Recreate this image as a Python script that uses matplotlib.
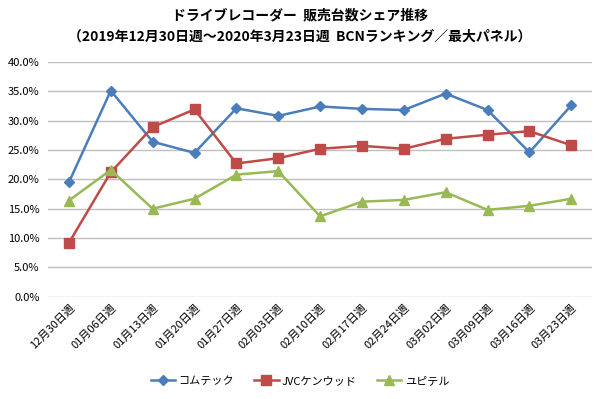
import matplotlib
matplotlib.use('Agg')
import matplotlib.pyplot as plt
from matplotlib.ticker import FuncFormatter

plt.rcParams['font.family'] = ['Noto Sans CJK JP', 'DejaVu Sans']

weeks = ['12月30日週', '01月06日週', '01月13日週', '01月20日週', '01月27日週',
         '02月03日週', '02月10日週', '02月17日週', '02月24日週', '03月02日週',
         '03月09日週', '03月16日週', '03月23日週']
comtec = [19.5, 35.1, 26.4, 24.5, 32.1, 30.8, 32.4, 32.0, 31.8, 34.6, 31.8, 24.6, 32.6]
jvc = [9.2, 21.2, 28.9, 31.9, 22.7, 23.6, 25.2, 25.7, 25.2, 26.9, 27.6, 28.2, 25.8]
yupiteru = [16.4, 21.6, 15.0, 16.7, 20.8, 21.4, 13.7, 16.2, 16.5, 17.8, 14.8, 15.5, 16.7]

fig = plt.figure(figsize=(6, 3.99), dpi=100)
ax = fig.add_axes([0.08, 0.256, 0.907, 0.589])

x = range(len(weeks))
ax.plot(x, comtec, color='#4A7EBB', marker='D', markersize=5, linewidth=1.8, label='コムテック')
ax.plot(x, jvc, color='#BE4B48', marker='s', markersize=6.5, linewidth=1.8, label='JVCケンウッド')
ax.plot(x, yupiteru, color='#98B954', marker='^', markersize=7, linewidth=1.8, label='ユピテル')

ax.set_xlim(-0.5, len(weeks) - 0.5)
ax.set_ylim(0, 40)
ax.set_yticks(range(0, 41, 5))
ax.yaxis.set_major_formatter(FuncFormatter(lambda v, p: f'{v:.1f}%'))
ax.set_xticks(list(x))
ax.set_xticklabels(weeks, rotation=45, ha='right', rotation_mode='anchor', fontsize=8)
ax.tick_params(axis='y', labelsize=8, length=0, pad=6)
ax.tick_params(axis='x', length=0, pad=4)
ax.grid(axis='y', color='#BFBFBF', linewidth=1)
ax.set_axisbelow(True)
for s in ax.spines.values():
    s.set_visible(False)

fig.text(0.5, 0.962, 'ドライブレコーダー  販売台数シェア推移', ha='center', va='center',
         fontsize=10, fontweight='bold')
fig.text(0.5, 0.907, '（2019年12月30日週～2020年3月23日週  BCNランキング／最大パネル）',
         ha='center', va='center', fontsize=10, fontweight='bold')

fig.legend(loc='center', bbox_to_anchor=(0.5, 0.045), ncol=3, frameon=False,
           fontsize=8, handlelength=2.2, handletextpad=0.3, columnspacing=1.8)

fig.savefig('out.png', dpi=100)
